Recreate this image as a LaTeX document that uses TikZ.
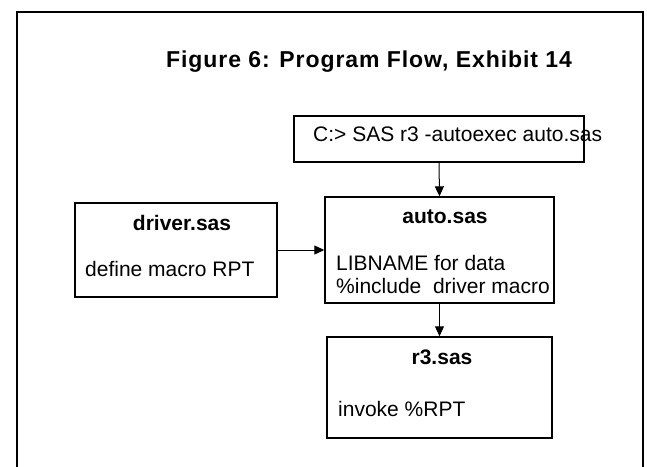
\documentclass[tikz,border=0pt]{standalone}
\usepackage{fontspec}
\setmainfont{Liberation Sans}
\newfontfamily\titlefont[LetterSpace=4]{Liberation Sans}
\usetikzlibrary{arrows.meta}
\tikzset{
  filebox/.style={draw, line width=1.4pt, inner sep=0pt},
  boxtitle/.style={font=\fontsize{21}{25}\selectfont\bfseries},
  boxtext/.style={font=\fontsize{21}{25}\selectfont, anchor=west, inner sep=0pt},
  flow/.style={-{Triangle[length=10pt,width=9pt]}, line width=1pt}
}

\begin{document}
\begin{tikzpicture}[x=1pt, y=-1pt]
  \useasboundingbox (0,0) rectangle (647,466);
  % outer frame, open at the bottom
  \draw[line width=2.8pt] (17,470) -- (17,12) -- (643,12) -- (643,470);
  \node[font=\titlefont\fontsize{23}{27}\selectfont\bfseries, inner sep=0pt] (title) at (369,62) {Figure 6: Program Flow, Exhibit 14};

  % the boxes
  \node[filebox, minimum width=290pt, minimum height=46pt] (cmd) at (439,139) {};
  \node[boxtext] (cmdtext) at (313,134) {C:> SAS r3 -autoexec auto.sas};

  \node[filebox, minimum width=202pt, minimum height=94pt] (driver) at (176,250) {};
  \node[boxtitle] (drivertitle) at (182,223) {driver.sas};
  \node[boxtext] (drivertext) at (85,269) {define macro RPT};

  \node[filebox, minimum width=229pt, minimum height=106pt] (auto) at (439.5,250) {};
  \node[boxtitle] (autotitle) at (445,217) {auto.sas};
  \node[boxtext] (autolib) at (336,263) {LIBNAME for data};
  \node[boxtext] (autoinc) at (336,286) {\%include\ \ driver macro};

  \node[filebox, minimum width=225pt, minimum height=101pt] (rthree) at (439.5,387.5) {};
  \node[boxtitle] (rthreetitle) at (442,357) {r3.sas};
  \node[boxtext] (rthreetext) at (338,409) {invoke \%RPT};

  % connectors
  \draw[flow] (cmd.south) -- (auto.north);
  \draw[flow] (driver.east) -- (auto.west);
  \draw[flow] (auto.south) -- (rthree.north);
\end{tikzpicture}
\end{document}
